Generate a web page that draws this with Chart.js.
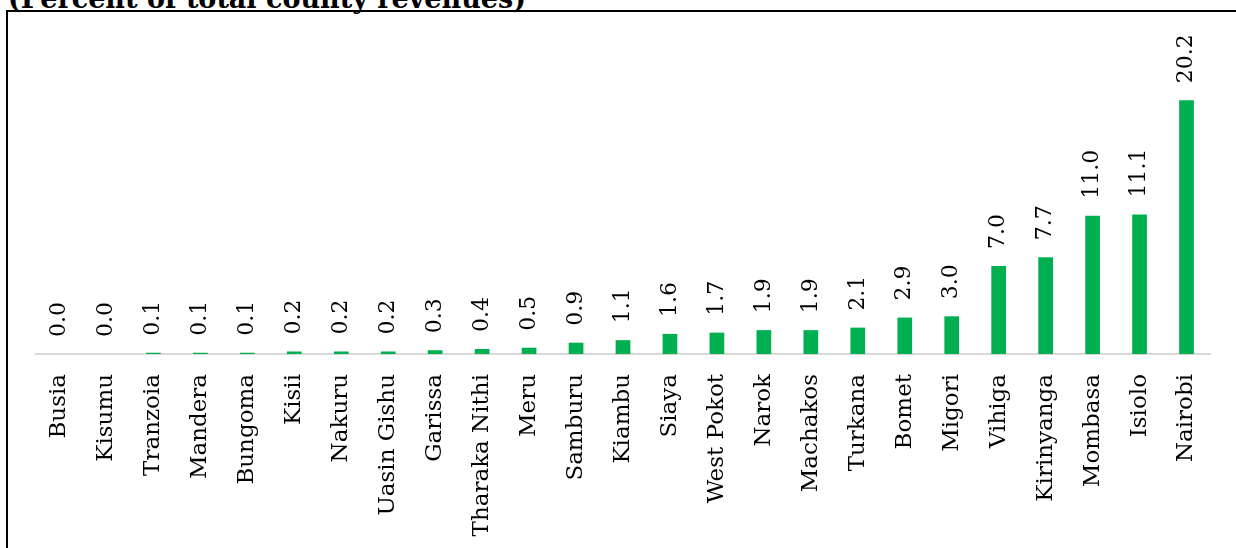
<!DOCTYPE html>
<html>
<head>
<meta charset="utf-8">
<script src="https://cdn.jsdelivr.net/npm/chart.js@4"></script>
<style>
    body { margin: 0; background: #fff; overflow: hidden; }
    #wrap { position: relative; width: 1236px; height: 548px; }
    #title {
        position: absolute; left: 8px; top: -15px;
        font: bold 27px "DejaVu Serif", serif; line-height: 27px;
        color: #000; white-space: nowrap;
    }
    #frame {
        position: absolute; left: 6px; top: 10px; width: 1240px; height: 560px;
        border-left: 2px solid #000; border-top: 2px solid #000;
    }
    canvas { position: absolute; left: 0; top: 0; }
</style>
</head>
<body>
<div id="wrap">
    <div id="title">(Percent of total county revenues)</div>
    <div id="frame"></div>
    <canvas id="barChart" width="1236" height="548"></canvas>
</div>
<script>
// Counties, sorted ascending by share
const counties = ['Busia', 'Kisumu', 'Tranzoia', 'Mandera', 'Bungoma', 'Kisii', 'Nakuru',
    'Uasin Gishu', 'Garissa', 'Tharaka Nithi', 'Meru', 'Samburu', 'Kiambu', 'Siaya',
    'West Pokot', 'Narok', 'Machakos', 'Turkana', 'Bomet', 'Migori', 'Vihiga',
    'Kirinyanga', 'Mombasa', 'Isiolo', 'Nairobi'];

// Percent of total county revenues
const shares = [0.0, 0.0, 0.1, 0.1, 0.1, 0.2, 0.2, 0.2, 0.3, 0.4, 0.5, 0.9, 1.1, 1.6,
    1.7, 1.9, 1.9, 2.1, 2.9, 3.0, 7.0, 7.7, 11.0, 11.1, 20.2];

// Draw the rotated value labels above each bar
const valueLabels = {
    id: 'valueLabels',
    afterDatasetsDraw(chart) {
        const ctx = chart.ctx;
        const meta = chart.getDatasetMeta(0);
        ctx.save();
        ctx.fillStyle = '#000';
        ctx.font = '22px "DejaVu Serif"';
        ctx.textAlign = 'left';
        ctx.textBaseline = 'middle';
        meta.data.forEach((bar, i) => {
            ctx.save();
            ctx.translate(bar.x, bar.y - 17);
            ctx.rotate(-Math.PI / 2);
            ctx.fillText(shares[i].toFixed(1), 0, 0);
            ctx.restore();
        });
        ctx.restore();
    }
};

const ctx = document.getElementById('barChart').getContext('2d');
new Chart(ctx, {
    type: 'bar',
    data: {
        labels: counties,
        datasets: [{
            data: shares,
            backgroundColor: '#00B050',
            borderWidth: 0,
            barPercentage: 0.313,
            categoryPercentage: 1
        }]
    },
    options: {
        responsive: false,
        animation: false,
        devicePixelRatio: 1,
        layout: { padding: { left: 36, right: 26, top: 40, bottom: 0 } },
        plugins: {
            legend: { display: false },
            tooltip: { enabled: false }
        },
        scales: {
            x: {
                grid: { display: false },
                border: { color: '#d9d9d9', width: 2 },
                ticks: {
                    autoSkip: false,
                    minRotation: 90,
                    maxRotation: 90,
                    padding: 12,
                    color: '#000',
                    font: { family: 'DejaVu Serif', size: 23 }
                },
                afterFit(scale) { scale.height = 194; }
            },
            y: {
                display: false,
                min: 0,
                max: 25
            }
        }
    },
    plugins: [valueLabels]
});
</script>
</body>
</html>
